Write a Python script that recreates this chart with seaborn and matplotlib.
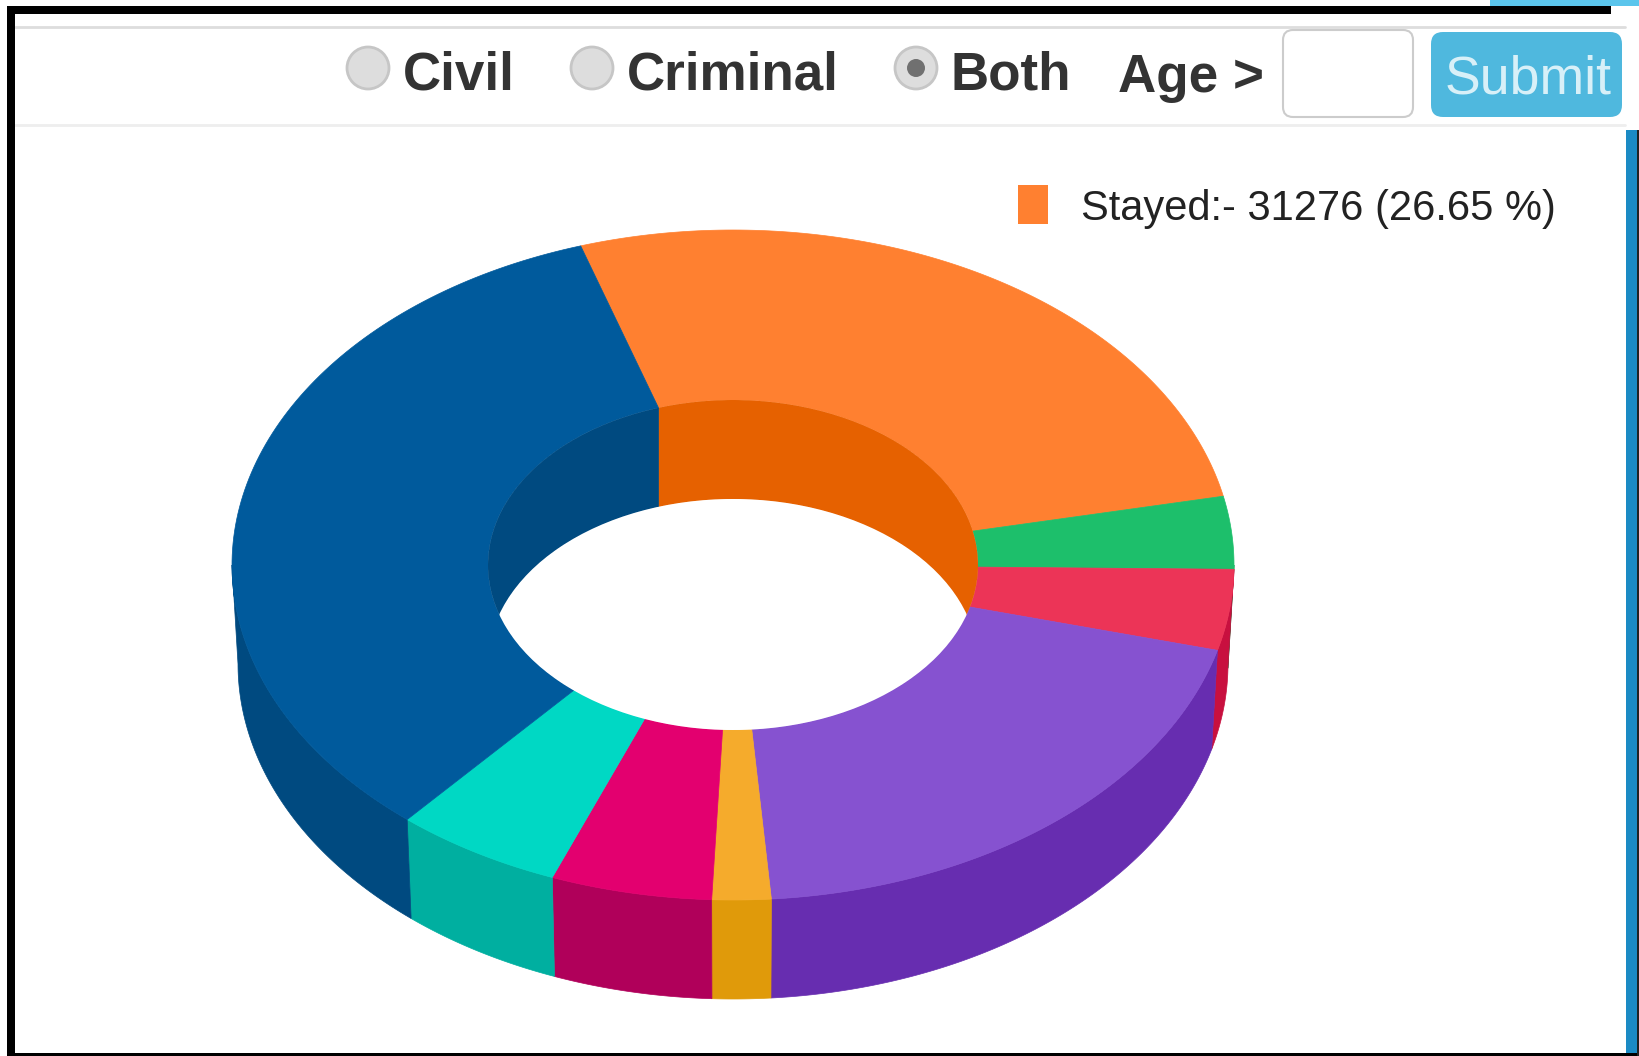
import numpy as np
import matplotlib
matplotlib.use("Agg")
import matplotlib.pyplot as plt
from matplotlib.patches import Circle, Ellipse, FancyBboxPatch, Rectangle
import seaborn as sns

# slice shares in percent, clockwise from the orange one
slices = ['Stayed', 'Green', 'Red', 'Purple', 'Yellow', 'Magenta', 'Teal', 'Blue']
shares = [26.65, 3.5, 3.9, 19.7, 1.9, 5.2, 5.4, 33.85]
top_colors = ['#FF8030', '#1DBF6B', '#EC3457', '#8652D0', '#F5AB2C', '#E3006F', '#00D8C4', '#005A9C']
side_colors = ['#E66100', '#17A05A', '#C8103F', '#672DB0', '#E09A0A', '#B0005A', '#00AFA0', '#004A80']
start_angle = 107.7

radio_labels = ['Civil', 'Criminal', 'Both']
legend_text = 'Stayed:- 31276 (26.65 %)'

# donut geometry in pixels
cx, cy = 733, 565
rx, ry = 501, 335
rx_in, ry_in = 245, 165
depth = 99
taper = 0.988

sns.set_theme(style="white")
plt.rcParams['font.family'] = ['Liberation Sans']
top_pal = sns.color_palette(top_colors)
side_pal = sns.color_palette(side_colors)

fig = plt.figure(figsize=(16.39, 10.56), dpi=100)
ax = fig.add_axes([0, 0, 1, 1])
ax.set_xlim(0, 1639)
ax.set_ylim(1056, 0)
ax.axis('off')


def arc(t1, t2, a, b, yc):
    t = np.radians(np.linspace(t1, t2, 120))
    return cx + a * np.cos(t), yc - b * np.sin(t)


ends = start_angle - np.cumsum(shares) / np.sum(shares) * 360
starts = np.r_[start_angle, ends[:-1]]

# outer wall, front half only
for t1, t2, col in zip(starts, ends, side_pal):
    lo, hi = max(t2, -180), min(t1, 0)
    if hi <= lo:
        continue
    x1, y1 = arc(hi, lo, rx, ry, cy)
    x2, y2 = arc(lo, hi, rx * taper, ry, cy + depth)
    ax.fill(np.r_[x1, x2], np.r_[y1, y2], color=col, lw=0.5, zorder=2)

# top face
for t1, t2, col in zip(starts, ends, top_pal):
    x1, y1 = arc(t1, t2, rx, ry, cy)
    x2, y2 = arc(t2, t1, rx_in, ry_in, cy)
    ax.fill(np.r_[x1, x2], np.r_[y1, y2], color=col, lw=0.5, zorder=3)

# hole: back part of the inner wall, seen through the top opening
hole_clip = Ellipse((cx, cy), 2 * rx_in, 2 * ry_in, fc='none', ec='none', zorder=4)
ax.add_patch(hole_clip)
for i, (t1, t2, col) in enumerate(zip(starts, ends, side_pal)):
    # the orange wall hides the green one in the original
    if i == 1:
        continue
    if i == 0:
        t2 = 0
    for shift in (0, 360):
        lo, hi = max(t2 + shift, 0), min(t1 + shift, 180)
        if hi <= lo:
            continue
        x1, y1 = arc(hi, lo, rx_in, ry_in, cy)
        x2, y2 = arc(lo, hi, rx_in, ry_in, cy + depth)
        poly = ax.fill(np.r_[x1, x2], np.r_[y1, y2], color=col, lw=0.5, zorder=4)[0]
        poly.set_clip_path(hole_clip)
hole = Ellipse((cx, cy + depth), 2 * rx_in, 2 * ry_in, fc='white', ec='none', zorder=5)
ax.add_patch(hole)
hole.set_clip_path(hole_clip)

# legend
ax.add_patch(Rectangle((1018, 185), 30, 39, fc=top_pal[0], ec='none', zorder=6))
ax.text(1081, 220, legend_text, fontsize=30, color='#222222', va='baseline')

# form row above the chart
ax.plot([15, 1625], [27, 27], color='#dddddd', lw=2, zorder=1)
ax.plot([15, 1625], [125, 125], color='#eeeeee', lw=2, zorder=1)
for x, lab, tx in zip([368, 592, 916], radio_labels, [403, 627, 951]):
    ax.add_patch(Circle((x, 68), 21, fc='#dddddd', ec='#c6c6c6', lw=2, zorder=6))
    ax.text(tx, 89, lab, fontsize=38.2, fontweight='bold', color='#333333', va='baseline', zorder=7)
ax.add_patch(Circle((916, 68), 9, fc='#707070', ec='none', zorder=7))
ax.text(1118, 92, 'Age >', fontsize=38.2, fontweight='bold', color='#333333', va='baseline', zorder=7)
ax.add_patch(FancyBboxPatch((1291, 38), 114, 71, boxstyle='round,pad=8,rounding_size=10', fc='white', ec='#cccccc', lw=1.5, zorder=6))
ax.add_patch(FancyBboxPatch((1439, 40), 175, 69, boxstyle='round,pad=8,rounding_size=12', fc='#4FB8DE', ec='none', zorder=6))
ax.text(1445, 94, 'Submit', fontsize=38.6, color='#D8F0F8', va='baseline', zorder=7)

# screenshot frame and page edges
ax.add_patch(Rectangle((7, 6), 1604, 8, fc='black', ec='none', zorder=8))
ax.add_patch(Rectangle((7, 6), 8, 1050, fc='black', ec='none', zorder=8))
ax.add_patch(Rectangle((7, 1053), 1632, 3, fc='black', ec='none', zorder=8))
ax.add_patch(Rectangle((1626, 130), 12, 923, fc='#1B8AC4', ec='none', zorder=8))
ax.add_patch(Rectangle((1637, 130), 2, 926, fc='#222222', ec='none', zorder=8))
ax.add_patch(Rectangle((1490, 0), 149, 6, fc='#5BC5EC', ec='none', zorder=8))

fig.savefig('out.png', dpi=100)
